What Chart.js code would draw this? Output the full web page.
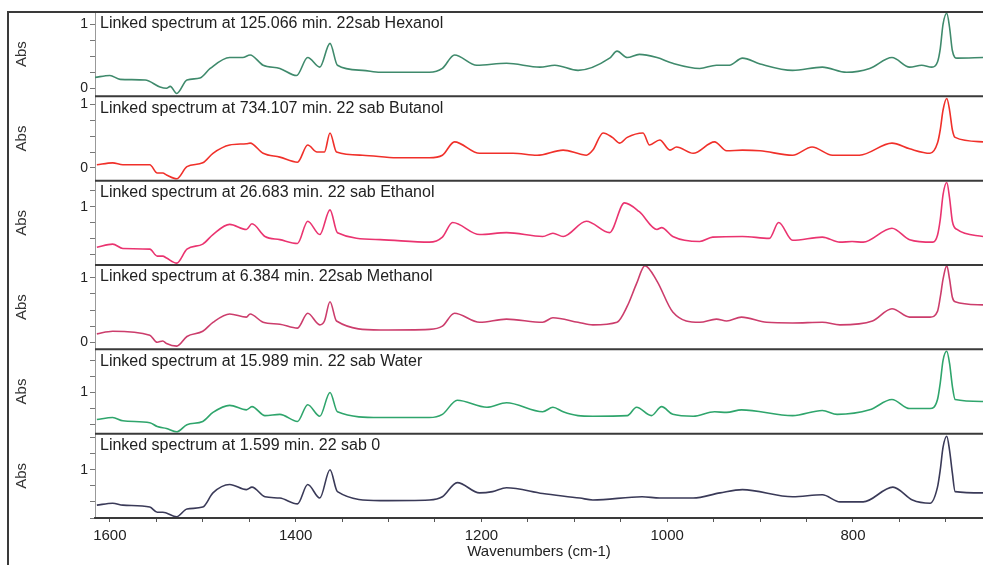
<!DOCTYPE html>
<html>
<head>
<meta charset="utf-8">
<title>Linked spectra</title>
<script src="https://cdn.jsdelivr.net/npm/chart.js@4.4.1/dist/chart.umd.min.js"></script>
<style>
  html, body { margin: 0; padding: 0; background: #fff; }
  #wrap { width: 983px; height: 565px; position: relative; }
</style>
</head>
<body>
<div id="wrap"><canvas id="spectra"></canvas></div>
<script>
// Panel titles, top to bottom
var panelTitles = [
    'Linked spectrum at 125.066 min. 22sab Hexanol',
    'Linked spectrum at 734.107 min. 22 sab Butanol',
    'Linked spectrum at 26.683 min. 22 sab Ethanol',
    'Linked spectrum at 6.384 min. 22sab Methanol',
    'Linked spectrum at 15.989 min. 22 sab Water',
    'Linked spectrum at 1.599 min. 22 sab 0'
];

// Wavenumbers (cm-1) and absorbances
var hexWn = [1616,1600,1589,1562,1546,1539,1535,1528,1517,1503,1492,1471,1457,1449,1435,1417,1399,1387,1374,1363,1355,1328,1309,1256,1242,1229,1205,1173,1137,1121,1096,1062,1054,1043,1030,1011,994,965,947,933,919,900,865,833,807,782,758,739,726,715,709,706,703,699,696,693,688,660];
var hexAbs = [0.17,0.20,0.14,0.13,0.02,0.00,0.03,-0.08,0.13,0.16,0.31,0.48,0.48,0.52,0.36,0.31,0.20,0.48,0.33,0.70,0.36,0.28,0.25,0.25,0.31,0.52,0.36,0.39,0.33,0.36,0.28,0.47,0.58,0.48,0.53,0.48,0.39,0.31,0.36,0.36,0.47,0.38,0.28,0.33,0.25,0.31,0.48,0.33,0.36,0.33,0.41,0.62,1.00,1.17,0.95,0.59,0.47,0.48];

var butWn = [1614,1597,1586,1557,1549,1543,1539,1528,1517,1500,1489,1471,1453,1449,1435,1417,1398,1387,1377,1369,1363,1356,1328,1291,1256,1242,1229,1202,1166,1140,1112,1094,1087,1080,1069,1059,1051,1043,1026,1019,1008,997,990,972,949,936,919,900,865,844,822,793,758,739,717,709,706,703,699,696,693,690,660];
var butAbs = [0.05,0.08,0.05,0.05,-0.08,-0.08,-0.11,-0.17,0.02,0.08,0.23,0.36,0.38,0.39,0.23,0.17,0.09,0.36,0.25,0.25,0.55,0.25,0.20,0.16,0.16,0.20,0.41,0.23,0.23,0.20,0.28,0.22,0.20,0.28,0.55,0.48,0.39,0.48,0.55,0.36,0.44,0.28,0.33,0.23,0.41,0.27,0.28,0.27,0.20,0.33,0.20,0.20,0.39,0.30,0.23,0.39,0.60,0.91,1.09,0.91,0.60,0.48,0.41];

var ethWn = [1614,1597,1586,1557,1549,1543,1539,1528,1517,1500,1489,1471,1453,1447,1433,1417,1398,1387,1374,1363,1355,1309,1256,1242,1231,1202,1173,1134,1123,1112,1087,1062,1046,1030,1011,1006,994,965,951,919,890,880,865,833,814,801,789,758,739,714,709,706,703,699,696,693,688,660];
var ethAbs = [0.36,0.41,0.34,0.33,0.22,0.22,0.19,0.11,0.33,0.41,0.56,0.72,0.64,0.73,0.53,0.48,0.42,0.77,0.56,0.95,0.59,0.48,0.44,0.52,0.75,0.56,0.59,0.53,0.58,0.53,0.77,0.59,1.06,0.92,0.64,0.67,0.53,0.45,0.52,0.53,0.50,0.75,0.47,0.52,0.44,0.45,0.44,0.66,0.48,0.44,0.55,0.80,1.19,1.38,1.14,0.77,0.64,0.53];

var metWn = [1614,1597,1557,1549,1543,1539,1528,1517,1500,1489,1471,1453,1449,1435,1417,1398,1387,1374,1369,1363,1356,1309,1256,1242,1229,1202,1173,1134,1123,1096,1080,1054,1043,1033,1024,1011,994,965,947,936,920,893,865,833,814,779,758,739,717,709,706,703,699,696,693,690,660];
var metAbs = [0.13,0.17,0.11,0.00,0.02,-0.02,-0.06,0.09,0.17,0.31,0.44,0.39,0.44,0.31,0.28,0.22,0.45,0.27,0.33,0.63,0.33,0.19,0.20,0.25,0.45,0.31,0.36,0.31,0.38,0.31,0.27,0.31,0.56,0.91,1.19,0.95,0.47,0.31,0.36,0.33,0.39,0.31,0.30,0.31,0.27,0.33,0.52,0.39,0.39,0.48,0.70,0.98,1.19,0.98,0.70,0.63,0.58];

var watWn = [1614,1597,1586,1557,1549,1539,1528,1517,1500,1489,1471,1453,1447,1433,1417,1398,1387,1374,1363,1355,1309,1256,1242,1226,1194,1173,1134,1123,1112,1096,1080,1043,1033,1017,1006,994,972,949,936,920,865,833,817,782,758,739,717,709,706,703,699,696,693,690,660];
var watAbs = [0.58,0.61,0.56,0.53,0.47,0.44,0.39,0.50,0.55,0.69,0.80,0.73,0.78,0.64,0.66,0.55,0.81,0.63,1.00,0.70,0.61,0.61,0.66,0.88,0.77,0.84,0.70,0.77,0.70,0.64,0.63,0.64,0.77,0.64,0.78,0.66,0.63,0.70,0.69,0.73,0.64,0.72,0.66,0.73,0.89,0.75,0.75,0.89,1.15,1.50,1.64,1.45,1.10,0.89,0.86];

var blankWn = [1614,1597,1586,1557,1549,1543,1528,1517,1500,1489,1471,1453,1447,1433,1417,1398,1387,1374,1363,1355,1309,1256,1242,1226,1202,1188,1173,1134,1094,1080,1027,1008,972,943,919,865,833,814,789,757,736,717,709,706,703,699,696,693,690,660];
var blankAbs = [0.45,0.48,0.45,0.42,0.34,0.34,0.27,0.39,0.42,0.64,0.77,0.69,0.73,0.58,0.56,0.47,0.77,0.56,1.00,0.66,0.52,0.53,0.58,0.80,0.64,0.66,0.72,0.63,0.56,0.53,0.58,0.56,0.56,0.64,0.69,0.58,0.61,0.50,0.50,0.73,0.53,0.48,0.73,1.00,1.35,1.52,1.30,0.95,0.66,0.64];

// Abs range shown in each panel
var panelMin = [-0.125, -0.2, 0.08, -0.11, 0.36, 0.25];
var panelMax = [1.19, 1.125, 1.41, 1.2, 1.67, 1.56];

var traceColors = ['#3f8a6c', '#f0302a', '#ea3470', '#cc3d6c', '#2fa56c', '#3a3a58'];
var panelIds = ['p0', 'p1', 'p2', 'p3', 'p4', 'p5'];

var traces = [[hexWn, hexAbs], [butWn, butAbs], [ethWn, ethAbs], [metWn, metAbs], [watWn, watAbs], [blankWn, blankAbs]];

Chart.defaults.font.family = '"Liberation Sans", Arial, Helvetica, sans-serif';
Chart.defaults.color = '#222';

var datasets = traces.map(function(t, i) {
    return {
        label: panelTitles[i],
        data: t[0].map(function(w, k) { return {x: w, y: t[1][k]}; }),
        yAxisID: panelIds[i],
        borderColor: traceColors[i],
        borderWidth: 1.6,
        pointRadius: 0,
        cubicInterpolationMode: 'monotone',
        fill: false
    };
});

var scales = {
    x: {
        type: 'linear',
        reverse: true,
        min: 660,
        max: 1616,
        afterFit: function(s) { s.height = 47; },
        border: { display: true, color: '#444', width: 2 },
        grid: { drawOnChartArea: false, tickLength: 4, color: '#555' },
        ticks: {
            stepSize: 50,
            includeBounds: false,
            autoSkip: false,
            maxRotation: 0,
            padding: 5,
            font: { size: 15 },
            callback: function(v) { return v % 200 === 0 ? String(v) : ''; }
        },
        title: {
            display: true,
            text: 'Wavenumbers (cm-1)',
            font: { size: 15 },
            padding: { top: 0, bottom: 4 }
        }
    }
};

panelIds.forEach(function(id, i) {
    scales[id] = {
        type: 'linear',
        position: 'left',
        stack: 'panels',
        stackWeight: 1,
        weight: panelIds.length - i,
        min: panelMin[i],
        max: panelMax[i],
        afterFit: function(s) { s.width = 87; },
        border: { display: true, color: '#999', width: 1 },
        grid: { drawOnChartArea: false, tickLength: 5, color: '#777' },
        ticks: {
            stepSize: 0.25,
            includeBounds: false,
            autoSkip: false,
            padding: 2,
            font: { size: 14 },
            callback: function(v) {
                if (Math.abs(v) < 1e-6) return '0';
                if (Math.abs(v - 1) < 1e-6) return '1';
                return '';
            }
        },
        title: {
            display: true,
            text: 'Abs',
            font: { size: 15 },
            color: '#333',
            padding: { top: 5, bottom: 0 }
        }
    };
});

// frame, panel separators and the panel captions
var panelDecor = {
    id: 'panelDecor',
    afterDraw: function(chart) {
        var ctx = chart.ctx;
        var area = chart.chartArea;
        ctx.save();
        ctx.strokeStyle = '#3a3a3a';
        ctx.lineWidth = 2;
        ctx.beginPath();
        ctx.moveTo(8, chart.height);
        ctx.lineTo(8, area.top);
        ctx.lineTo(chart.width, area.top);
        ctx.stroke();
        panelIds.forEach(function(id, i) {
            var s = chart.scales[id];
            ctx.strokeStyle = '#3a3a3a';
            ctx.lineWidth = 2;
            ctx.beginPath();
            ctx.moveTo(area.left, s.bottom);
            ctx.lineTo(area.right, s.bottom);
            ctx.stroke();
            ctx.fillStyle = '#222';
            ctx.font = '16px "Liberation Sans", Arial, Helvetica, sans-serif';
            ctx.textBaseline = 'middle';
            ctx.textAlign = 'left';
            ctx.fillText(panelTitles[i], area.left + 5, s.top + 12);
        });
        ctx.restore();
    }
};

var ctx = document.getElementById('spectra').getContext('2d');
var spectraChart = new Chart(ctx, {
    type: 'line',
    data: { datasets: datasets },
    options: {
        responsive: true,
        maintainAspectRatio: false,
        animation: false,
        layout: { padding: { left: 8, top: 12, right: 0, bottom: 0 } },
        plugins: {
            legend: { display: false },
            tooltip: { enabled: false }
        },
        scales: scales
    },
    plugins: [panelDecor]
});
</script>
</body>
</html>
